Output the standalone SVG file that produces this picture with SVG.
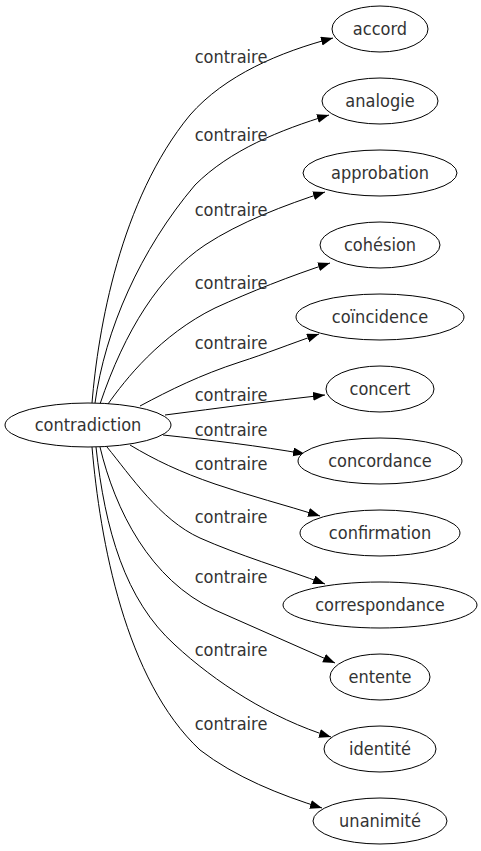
<svg xmlns="http://www.w3.org/2000/svg" width="481" height="851" viewBox="0 0 481 851">
<defs>
<marker id="arr" markerUnits="userSpaceOnUse" markerWidth="12" markerHeight="10" refX="12" refY="4.5" orient="auto">
<path d="M0,0 L12,4.5 L0,9 z" fill="#000"/>
</marker>
<style>
.n ellipse{fill:#fff;stroke:#000;stroke-width:1}
text{font-family:"DejaVu Sans Condensed","DejaVu Sans",sans-serif;font-size:18px;fill:#333;text-anchor:middle}
#edges path{fill:none;stroke:#000;stroke-width:1;marker-end:url(#arr)}
</style>
</defs>
<rect width="481" height="851" fill="#fff"/>
<g id="edges">
<path d="M92,403 C98,330 120,200 190,115 C225,75 280,52 333,38"/>
<path d="M95,403 C105,330 140,250 195,185 C230,150 280,130 329,115"/>
<path d="M100,404 C125,330 160,275 205,245 C240,222 285,205 325,192"/>
<path d="M108,404 C125,380 160,335 215,308 C250,292 290,276 330,263"/>
<path d="M140,406 C170,390 200,375 240,362 C265,354 290,344 319,334"/>
<path d="M165,415 C220,408 270,401 325,395"/>
<path d="M163,435 C210,440 260,446 305,454"/>
<path d="M130,445 C155,460 180,472 215,484 C250,496 285,505 320,516"/>
<path d="M107,447 C130,475 160,520 200,538 C238,555 285,569 325,584"/>
<path d="M100,447 C115,510 150,580 215,610 C255,628 295,645 335,663"/>
<path d="M96,447 C105,530 125,600 175,645 C215,682 270,718 331,737"/>
<path d="M92,447 C100,540 125,680 200,750 C235,777 280,795 322,808"/>
<text x="231" y="63">contraire</text>
<text x="231" y="141">contraire</text>
<text x="231" y="216">contraire</text>
<text x="231" y="289">contraire</text>
<text x="231" y="349">contraire</text>
<text x="231" y="401">contraire</text>
<text x="231" y="436">contraire</text>
<text x="231" y="470">contraire</text>
<text x="231" y="523">contraire</text>
<text x="231" y="583">contraire</text>
<text x="231" y="656">contraire</text>
<text x="231" y="730">contraire</text>
</g>
<g id="contradiction" class="n"><ellipse cx="88" cy="425" rx="83" ry="22"/><text x="88" y="431">contradiction</text></g>
<g id="accord" class="n"><ellipse cx="380" cy="29" rx="48" ry="23"/><text x="380" y="35">accord</text></g>
<g id="analogie" class="n"><ellipse cx="380" cy="101" rx="58" ry="23"/><text x="380" y="107">analogie</text></g>
<g id="approbation" class="n"><ellipse cx="380" cy="173" rx="77" ry="23"/><text x="380" y="179">approbation</text></g>
<g id="cohesion" class="n"><ellipse cx="380" cy="245" rx="60" ry="23"/><text x="380" y="251">cohésion</text></g>
<g id="coincidence" class="n"><ellipse cx="380" cy="317" rx="84" ry="23"/><text x="380" y="323">coïncidence</text></g>
<g id="concert" class="n"><ellipse cx="380" cy="389" rx="54" ry="23"/><text x="380" y="395">concert</text></g>
<g id="concordance" class="n"><ellipse cx="380" cy="461" rx="82" ry="23"/><text x="380" y="467">concordance</text></g>
<g id="confirmation" class="n"><ellipse cx="380" cy="533" rx="80" ry="23"/><text x="380" y="539">confirmation</text></g>
<g id="correspondance" class="n"><ellipse cx="380" cy="605" rx="97" ry="23"/><text x="380" y="611">correspondance</text></g>
<g id="entente" class="n"><ellipse cx="380" cy="677" rx="50" ry="23"/><text x="380" y="683">entente</text></g>
<g id="identite" class="n"><ellipse cx="380" cy="749" rx="56" ry="23"/><text x="380" y="755">identité</text></g>
<g id="unanimite" class="n"><ellipse cx="380" cy="821" rx="67" ry="23"/><text x="380" y="827">unanimité</text></g>
</svg>
